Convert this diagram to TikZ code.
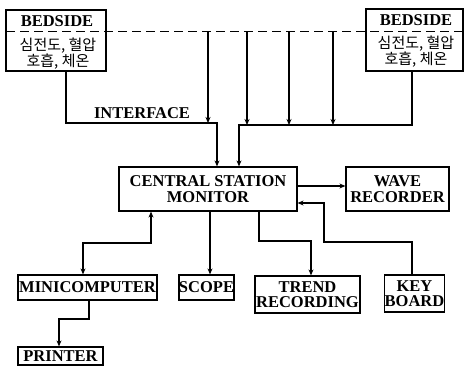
\documentclass[tikz,border=0pt]{standalone}
\usepackage{fontspec}
\setmainfont{Liberation Serif}
\newfontfamily\kor{Noto Sans CJK KR}
\usetikzlibrary{calc,arrows.meta,positioning}
\tikzset{
  ar/.style={-{Stealth[length=6pt,width=5pt]},line width=1.1pt},
  dar/.style={{Stealth[length=6pt,width=5pt]}-{Stealth[length=6pt,width=5pt]},line width=1.1pt},
  bus/.style={line width=1.1pt,dash pattern=on 9pt off 5pt},
  box/.style={draw,line width=1.2pt,align=center,inner xsep=0pt,inner ysep=1pt,font=\bfseries\fontsize{16.5}{15.5}\selectfont},
  txt/.style={inner sep=0pt,font=\bfseries\fontsize{16.5}{15.5}\selectfont},
  kr/.style={inner sep=0pt,align=center,font=\kor\fontsize{15}{16}\selectfont}
}
\begin{document}
\begin{tikzpicture}[x=1pt,y=-1pt]
\useasboundingbox (0,0) rectangle (464,366);
% bedside units and bus
\node[box,minimum width=100pt,minimum height=61pt] (bedL) at (56,40.5) {};
\node[box,minimum width=97pt,minimum height=62pt] (bedR) at (414.5,40) {};
\node[txt] (bedLt) at (57,21.5) {BEDSIDE};
\node[txt] (bedRt) at (416,20) {BEDSIDE};
\node[kr] (bedLk) at (58,54) {심전도, 혈압\\호흡, 체온};
\node[kr] (bedRk) at (416,52) {심전도, 혈압\\호흡, 체온};
\coordinate (busL) at (6,31.5);
\coordinate (busR) at (464,31.5);
\draw[bus] (busL) -- (busR);
% central part
\node[box,minimum width=178pt,minimum height=44pt] (cent) at (208,189) {CENTRAL STATION\\MONITOR};
\node[box,minimum width=103pt,minimum height=44pt] (wave) at (397.5,189) {WAVE\\RECORDER};
\node[box,minimum width=139pt,minimum height=25pt] (mini) at (87.5,287.5) {MINICOMPUTER};
\node[box,minimum width=51pt,minimum height=25pt] (scope) at (206.5,287.5) {SCOPE};
\node[box,minimum width=105pt,minimum height=37pt] (trend) at (307.5,294.5) {TREND\\RECORDING};
\node[box,minimum width=59pt,minimum height=37pt] (key) at (414.5,293.5) {KEY\\BOARD};
\node[box,minimum width=85pt,minimum height=18pt] (prn) at (60.5,356) {PRINTER};
\node[txt] (intf) at (142,113) {INTERFACE};
% bus taps
\foreach \xx/\yy [count=\i] in {208/123,247/125,289/125,333/125}{
  \coordinate (tap\i) at (\xx,31.5);
  \coordinate (drop\i) at (\xx,\yy);
  \draw[ar] (tap\i) -- (drop\i);
}
\coordinate (trL) at (217,123);
\coordinate (trR) at (239,125);
\draw[ar] ($(bedL.south)+(10,0)$) |- (trL) -- (trL |- cent.north);
\draw[ar] ($(bedR.south)+(-2.5,0)$) |- (trR) -- (trR |- cent.north);
% outputs
\coordinate (wv) at ($(cent.east)+(0,-3)$);
\draw[ar] (wv) -- (wv -| wave.west);
\coordinate (kb) at (324,242);
\draw[ar] ($(key.north)+(-2.5,0)$) |- (kb) |- ($(cent.east)+(0,14)$);
\coordinate (tb) at (311,241);
\draw[ar] ($(cent.south)+(51,0)$) |- (tb) -- (tb |- trend.north);
\draw[ar] ($(cent.south)+(2,0)$) -- ($(scope.north)+(3.5,0)$);
\coordinate (mb) at (151,243);
\draw[dar] ($(mini.north)+(-4.5,0)$) |- (mb) -- (mb |- cent.south);
\coordinate (pb) at (59,319);
\draw[ar] ($(mini.south)+(1.5,0)$) |- (pb) -- (pb |- prn.north);
\end{tikzpicture}
\end{document}
